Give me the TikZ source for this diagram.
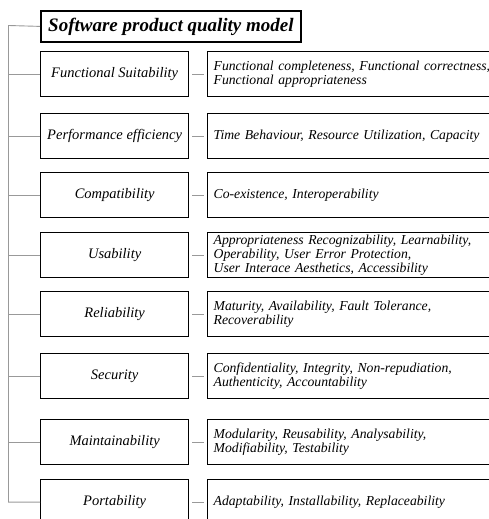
\documentclass[tikz,border=0pt]{standalone}
\usepackage{fontspec}
\setmainfont{Liberation Serif}
\usepackage{tikz}
\usetikzlibrary{positioning}
\newcommand{\descfont}{\fontsize{13.7}{14.3}\selectfont\itshape\spaceskip=0.2em plus 0.1em\relax}
\tikzset{every picture/.style={x=1pt,y=-1pt},
  titlebox/.style={draw,line width=1.8pt,anchor=north west,minimum width=260pt,minimum height=31pt,inner sep=0pt,font=\fontsize{19}{22}\selectfont\bfseries\itshape},
  catbox/.style={draw,line width=1.3pt,anchor=north west,minimum width=148pt,minimum height=45pt,inner sep=0pt,font=\fontsize{14.5}{16}\selectfont\itshape},
  descbox/.style={draw,line width=1.3pt,anchor=north west,text width=300pt,align=left,inner xsep=6pt,inner ysep=0pt,minimum height=45pt,font=\descfont},
  branch/.style={draw=gray!80,line width=0.9pt},
  catlink/.style={draw=gray!80,line width=0.9pt,shorten <=3pt,shorten >=3pt}}

\begin{document}
\begin{tikzpicture}
            \useasboundingbox (0,0) rectangle (489,519);
            \clip (0,0) rectangle (489,519);

            \node[titlebox] (title) at (40,10) {Software product quality model};
            \coordinate (spine) at (8.5,25.5);

            \node[catbox] (cat1) at (40,51) {Functional Suitability};
            \node[catbox] (cat2) at (40,113) {Performance efficiency};
            \node[catbox] (cat3) at (40,172) {Compatibility};
            \node[catbox] (cat4) at (40,232) {Usability};
            \node[catbox] (cat5) at (40,291) {Reliability};
            \node[catbox] (cat6) at (40,353) {Security};
            \node[catbox] (cat7) at (40,419) {Maintainability};
            \node[catbox] (cat8) at (40,479) {Portability};

            \node[descbox] (desc1) at (207,51) {Functional completeness, Functional correctness,\\Functional appropriateness};
            \node[descbox] (desc2) at (207,113) {Time Behaviour, Resource Utilization, Capacity};
            \node[descbox] (desc3) at (207,172) {Co-existence, Interoperability};
            \node[descbox] (desc4) at (207,232) {Appropriateness Recognizability, Learnability,\\Operability, User Error Protection,\\User Interace Aesthetics, Accessibility};
            \node[descbox] (desc5) at (207,291) {Maturity, Availability, Fault Tolerance,\\Recoverability};
            \node[descbox] (desc6) at (207,353) {Confidentiality, Integrity, Non-repudiation,\\Authenticity, Accountability};
            \node[descbox] (desc7) at (207,419) {Modularity, Reusability, Analysability,\\Modifiability, Testability};
            \node[descbox] (desc8) at (207,479) {Adaptability, Installability, Replaceability};

            % tree on the left
            \draw[branch] (title.west) -- (spine) -- (spine |- cat8.west) -- (cat8.west);
            \foreach \n in {cat1, cat2, cat3, cat4, cat5, cat6, cat7}
              \draw[branch] (spine |- \n.west) -- (\n.west);
            \foreach \from/\to in {cat1/desc1, cat2/desc2, cat3/desc3, cat4/desc4, cat5/desc5, cat6/desc6, cat7/desc7, cat8/desc8}
              \draw[catlink] (\from.east) -- (\to.west);
        \end{tikzpicture}
\end{document}
